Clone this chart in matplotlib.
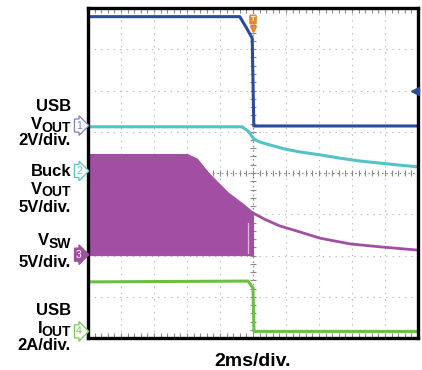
import numpy as np
import matplotlib
matplotlib.use("Agg")
import matplotlib.pyplot as plt

plt.rcParams['font.family'] = ['Liberation Sans', 'DejaVu Sans']

# ---------------- data (time in ms, amplitude in screen divisions from bottom) -------------
blue_t = [0.0, 9.2, 9.6, 9.95, 10.05, 20.0]
blue_v = [7.79, 7.79, 7.52, 7.27, 5.14, 5.14]

cyan_t = [0.0, 9.33, 9.70, 10.06, 10.42, 11.03, 11.94, 12.85, 14.06, 15.27, 16.48, 17.70, 18.90, 20.0]
cyan_v = [5.12, 5.12, 5.02, 4.82, 4.75, 4.68, 4.58, 4.51, 4.44, 4.36, 4.29, 4.24, 4.19, 4.15]

# switching node: envelope of the switching band before shutdown
sw_env_t = [0.0, 6.0, 6.6, 7.3, 8.5, 9.4, 10.0]
sw_env_hi = [4.46, 4.46, 4.35, 4.00, 3.52, 3.25, 3.05]
sw_env_lo = [2.01, 2.01, 2.01, 2.01, 2.01, 2.01, 2.01]
# switching node after shutdown (single decaying trace)
sw_t = [10.0, 10.7, 11.6, 12.85, 14.06, 15.9, 17.7, 20.0]
sw_v = [3.03, 2.88, 2.72, 2.57, 2.42, 2.28, 2.21, 2.13]

green_t = [0.0, 9.7, 10.0, 10.06, 20.0]
green_v = [1.36, 1.38, 1.21, 0.16, 0.16]

channel_ids = ['1', '2', '3', '4']
channel_levels = [5.15, 4.05, 2.02, 0.16]

# left-side labels: (main text, subscript, baseline px)
label_rows = [
    ("USB", "", 111),
    ("V", "OUT", 129),
    ("2V/div.", "", 145),
    ("Buck", "", 176),
    ("V", "OUT", 194),
    ("5V/div.", "", 212),
    ("V", "SW", 245),
    ("5V/div.", "", 267),
    ("USB", "", 315),
    ("I", "OUT", 333),
    ("2A/div.", "", 350),
]
x_label = "2ms/div."

# ---------------- styling ----------------
W, H = 422, 370
c_blue = '#2b4b9b'
c_cyan = '#52c3c9'
c_purple = '#a24fa3'
c_green = '#6cbf45'
c_orange = '#e8892f'
marker_colors = ['#7f7fc9', '#5cc6c6', '#a24fa3', '#7cc75a']

fig = plt.figure(figsize=(W / 100, H / 100), dpi=100)
fig.patch.set_facecolor('white')
ax = fig.add_axes([88 / W, 1 - 338 / H, 330 / W, 330 / H])
ax.set_xlim(0, 20)
ax.set_ylim(0, 8)
ax.set_xticks([])
ax.set_yticks([])
for s in ax.spines.values():
    s.set_linewidth(2.4)
    s.set_color('black')
    s.set_zorder(10)

# graticule
grid_kw = dict(color='#b8b8b8', lw=0.8, linestyle=(0, (1.2, 4.5)), zorder=1)
for gx in range(2, 20, 2):
    if gx != 10:
        ax.axvline(gx, **grid_kw)
for gy in range(1, 8):
    if gy != 4:
        ax.axhline(gy, **grid_kw)
ax.axhline(4, color='#8a8a8a', lw=0.8, linestyle=(0, (1.5, 2.5)), zorder=1)
ax.axvline(10, color='#8a8a8a', lw=0.8, linestyle=(0, (1.5, 2.5)), zorder=1)
# minor tick marks on centre lines and borders
mx = np.arange(0, 20.01, 0.4)
my = np.arange(0, 8.01, 0.2)
ax.plot(mx, np.full_like(mx, 4.0), linestyle='none', marker='|', ms=4, mew=0.8, color='#8a8a8a', zorder=1)
ax.plot(np.full_like(my, 10.0), my, linestyle='none', marker='_', ms=4, mew=0.8, color='#8a8a8a', zorder=1)
ax.plot(mx, np.full_like(mx, 0.08), linestyle='none', marker='|', ms=3, mew=0.8, color='#8a8a8a', zorder=1)
ax.plot(mx, np.full_like(mx, 7.92), linestyle='none', marker='|', ms=3, mew=0.8, color='#8a8a8a', zorder=1)

# traces
ax.fill_between(sw_env_t, sw_env_lo, sw_env_hi, color=c_purple, lw=0.8, zorder=3)
ax.plot([9.72, 9.72], [2.05, 2.78], color='#e2b6e2', lw=0.9, zorder=3)
ax.plot(sw_t, sw_v, color=c_purple, lw=2.0, zorder=3)
ax.plot(cyan_t, cyan_v, color=c_cyan, lw=2.2, zorder=4)
ax.plot(blue_t, blue_v, color=c_blue, lw=2.2, zorder=5)
ax.plot(green_t, green_v, color=c_green, lw=2.2, zorder=4)

# trigger marker
ax.text(10.0, 7.72, 'T', ha='center', va='center', fontsize=5.5, color='white', fontweight='bold',
        bbox=dict(boxstyle='round,pad=0.2', fc=c_orange, ec='none'), zorder=12, clip_on=False)
ax.plot([10.0], [7.5], marker='v', ms=4, color=c_orange, zorder=12, clip_on=False)
# right-side level marker
ax.plot([19.83], [6.0], marker='<', ms=6, color=c_blue, zorder=12, clip_on=False)

# channel markers on the left edge
for cid, lvl, col in zip(channel_ids, channel_levels, marker_colors):
    filled = cid == '3'
    ax.text(-0.55, lvl, cid, ha='center', va='center', fontsize=7.5,
            color='white' if filled else col,
            bbox=dict(boxstyle='rarrow,pad=0.15', fc=col if filled else 'white', ec=col, lw=0.9),
            zorder=12, clip_on=False)

# left labels
renderer = fig.canvas.get_renderer()
x_right = 71 / W
for main, sub, base in label_rows:
    yb = 1 - base / H
    if sub:
        t_sub = fig.text(x_right, 1 - (base + 2.5) / H, sub, ha='right', va='baseline',
                         fontsize=10, fontweight='bold')
        bb = t_sub.get_window_extent(renderer)
        fig.text(bb.x0 / W + 0.5 / W, yb, main, ha='right', va='baseline', fontsize=12, fontweight='bold')
    else:
        fig.text(x_right, yb, main, ha='right', va='baseline', fontsize=12, fontweight='bold')

fig.text(253 / W, 1 - 366 / H, x_label, ha='center', va='baseline', fontsize=14, fontweight='bold')

fig.savefig('out.png', dpi=100, facecolor='white')
